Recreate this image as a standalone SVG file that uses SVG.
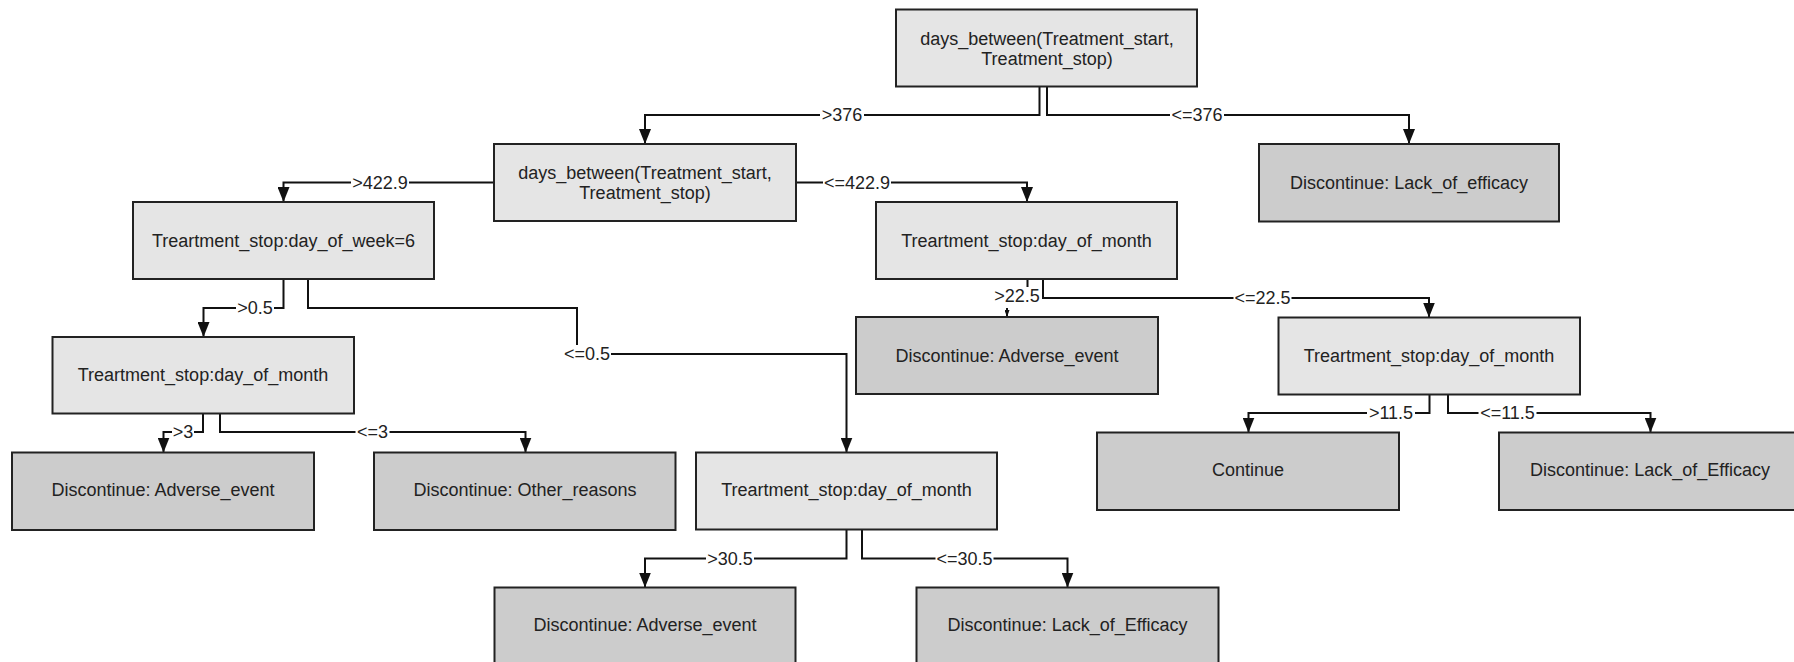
<svg xmlns="http://www.w3.org/2000/svg" width="1794" height="662" viewBox="0 0 1794 662">
<style>
  .dec { fill: #e5e5e5; stroke: #222; stroke-width: 2; }
  .leaf { fill: #cccccc; stroke: #222; stroke-width: 2; }
  .t { font-family: "Liberation Sans", Arial, sans-serif; font-size: 18px; fill: #222; text-anchor: middle; }
  .edge { fill: none; stroke: #111; stroke-width: 2; }
  .lbg { fill: #ffffff; }
</style>
<defs>
  <marker id="arrow" viewBox="0 0 15 12" refX="15" refY="6" markerWidth="15" markerHeight="12" markerUnits="userSpaceOnUse" orient="auto">
    <path d="M0,0 L15,6 L0,12 z" fill="#111"/>
  </marker>
  <marker id="arrowSmall" viewBox="0 0 7 5" refX="7" refY="2.5" markerWidth="7" markerHeight="5" markerUnits="userSpaceOnUse" orient="auto">
    <path d="M0,0 L7,2.5 L0,5 z" fill="#111"/>
  </marker>
</defs>
<rect x="0" y="0" width="1794" height="662" fill="#ffffff"/>

<g id="connectors">
  <path class="edge" d="M1039.5,86.5 V115 H645 V144" marker-end="url(#arrow)"/>
  <path class="edge" d="M1047,86.5 V115 H1409 V144" marker-end="url(#arrow)"/>
  <path class="edge" d="M494,182.5 H283.5 V202" marker-end="url(#arrow)"/>
  <path class="edge" d="M796,182.5 H1027 V202" marker-end="url(#arrow)"/>
  <path class="edge" d="M283.5,279 V308 H203.5 V337" marker-end="url(#arrow)"/>
  <path class="edge" d="M308,279 V308 H577 V354 H846.5 V452.5" marker-end="url(#arrow)"/>
  <path class="edge" d="M1027.5,279 V298 H1007 V317" marker-end="url(#arrowSmall)"/>
  <path class="edge" d="M1043,279 V298 H1429 V317.5" marker-end="url(#arrow)"/>
  <path class="edge" d="M203,413.5 V432 H163.5 V452.5" marker-end="url(#arrow)"/>
  <path class="edge" d="M220,413.5 V432 H525.5 V452.5" marker-end="url(#arrow)"/>
  <path class="edge" d="M1429.5,394.5 V413 H1248.5 V432.5" marker-end="url(#arrow)"/>
  <path class="edge" d="M1448,394.5 V413 H1650.5 V432.5" marker-end="url(#arrow)"/>
  <path class="edge" d="M846.5,529.5 V558.5 H645 V587.5" marker-end="url(#arrow)"/>
  <path class="edge" d="M862,529.5 V558.5 H1067.5 V587.5" marker-end="url(#arrow)"/>
  <g id="edge-labels">
    <rect class="lbg" x="820" y="106" width="44" height="18"/>
    <text class="t" x="842" y="121">&gt;376</text>
    <rect class="lbg" x="1170" y="106" width="54" height="18"/>
    <text class="t" x="1197" y="121">&lt;=376</text>
    <rect class="lbg" x="351" y="173.5" width="58" height="18"/>
    <text class="t" x="380" y="188.5">&gt;422.9</text>
    <rect class="lbg" x="823" y="173.5" width="68" height="18"/>
    <text class="t" x="857" y="188.5">&lt;=422.9</text>
    <rect class="lbg" x="236" y="299" width="38" height="18"/>
    <text class="t" x="255" y="314">&gt;0.5</text>
    <rect class="lbg" x="563" y="345" width="48" height="18"/>
    <text class="t" x="587" y="360">&lt;=0.5</text>
    <rect class="lbg" x="993" y="287" width="48" height="21"/>
    <text class="t" x="1017" y="302">&gt;22.5</text>
    <rect class="lbg" x="1233.5" y="289" width="58" height="18"/>
    <text class="t" x="1262.5" y="304">&lt;=22.5</text>
    <rect class="lbg" x="172" y="423" width="22" height="18"/>
    <text class="t" x="183" y="438">&gt;3</text>
    <rect class="lbg" x="355.5" y="423" width="34" height="18"/>
    <text class="t" x="372.5" y="438">&lt;=3</text>
    <rect class="lbg" x="1367" y="404" width="48" height="18"/>
    <text class="t" x="1391" y="419">&gt;11.5</text>
    <rect class="lbg" x="1478.5" y="404" width="58" height="18"/>
    <text class="t" x="1507.5" y="419">&lt;=11.5</text>
    <rect class="lbg" x="706" y="549.5" width="48" height="18"/>
    <text class="t" x="730" y="564.5">&gt;30.5</text>
    <rect class="lbg" x="935.5" y="549.5" width="58" height="18"/>
    <text class="t" x="964.5" y="564.5">&lt;=30.5</text>
  </g>
</g>

<g id="node-root">
  <rect class="dec" x="896" y="9.5" width="301" height="77"/>
  <text class="t" x="1047" y="44.5">days_between(Treatment_start,</text>
  <text class="t" x="1047" y="64.5">Treatment_stop)</text>
</g>
<g id="node-lack-top">
  <rect class="leaf" x="1259" y="144" width="300" height="77.5"/>
  <text class="t" x="1409" y="189">Discontinue: Lack_of_efficacy</text>
</g>
<g id="node-days-between-2">
  <rect class="dec" x="494" y="144" width="302" height="77"/>
  <text class="t" x="645" y="178.8">days_between(Treatment_start,</text>
  <text class="t" x="645" y="198.8">Treatment_stop)</text>
</g>
<g id="node-dow">
  <rect class="dec" x="133" y="202" width="301" height="77"/>
  <text class="t" x="283.5" y="246.8">Treartment_stop:day_of_week=6</text>
</g>
<g id="node-dom-2">
  <rect class="dec" x="876" y="202" width="301" height="77"/>
  <text class="t" x="1026.5" y="246.8">Treartment_stop:day_of_month</text>
</g>
<g id="node-dom-3-left">
  <rect class="dec" x="52.5" y="337" width="301.5" height="76.5"/>
  <text class="t" x="203" y="381.3">Treartment_stop:day_of_month</text>
</g>
<g id="node-adverse-mid">
  <rect class="leaf" x="856" y="317" width="302" height="77"/>
  <text class="t" x="1007" y="361.5">Discontinue: Adverse_event</text>
</g>
<g id="node-dom-3-right">
  <rect class="dec" x="1278.5" y="317.5" width="301.5" height="77"/>
  <text class="t" x="1429" y="362">Treartment_stop:day_of_month</text>
</g>
<g id="node-adverse-4">
  <rect class="leaf" x="12" y="452.5" width="302" height="77.5"/>
  <text class="t" x="163" y="495.5">Discontinue: Adverse_event</text>
</g>
<g id="node-other">
  <rect class="leaf" x="374" y="452.5" width="301.5" height="77.5"/>
  <text class="t" x="525" y="495.5">Discontinue: Other_reasons</text>
</g>
<g id="node-dom-4">
  <rect class="dec" x="696" y="452.5" width="301" height="77"/>
  <text class="t" x="846.5" y="495.5">Treartment_stop:day_of_month</text>
</g>
<g id="node-continue">
  <rect class="leaf" x="1097" y="432.5" width="302" height="77.5"/>
  <text class="t" x="1248" y="475.5">Continue</text>
</g>
<g id="node-lack-right">
  <rect class="leaf" x="1499" y="432.5" width="302" height="77.5"/>
  <text class="t" x="1650" y="475.5">Discontinue: Lack_of_Efficacy</text>
</g>
<g id="node-adverse-5">
  <rect class="leaf" x="494.5" y="587.5" width="301" height="77"/>
  <text class="t" x="645" y="630.5">Discontinue: Adverse_event</text>
</g>
<g id="node-lack-bottom">
  <rect class="leaf" x="916.5" y="587.5" width="302" height="77"/>
  <text class="t" x="1067.5" y="630.5">Discontinue: Lack_of_Efficacy</text>
</g>
</svg>
